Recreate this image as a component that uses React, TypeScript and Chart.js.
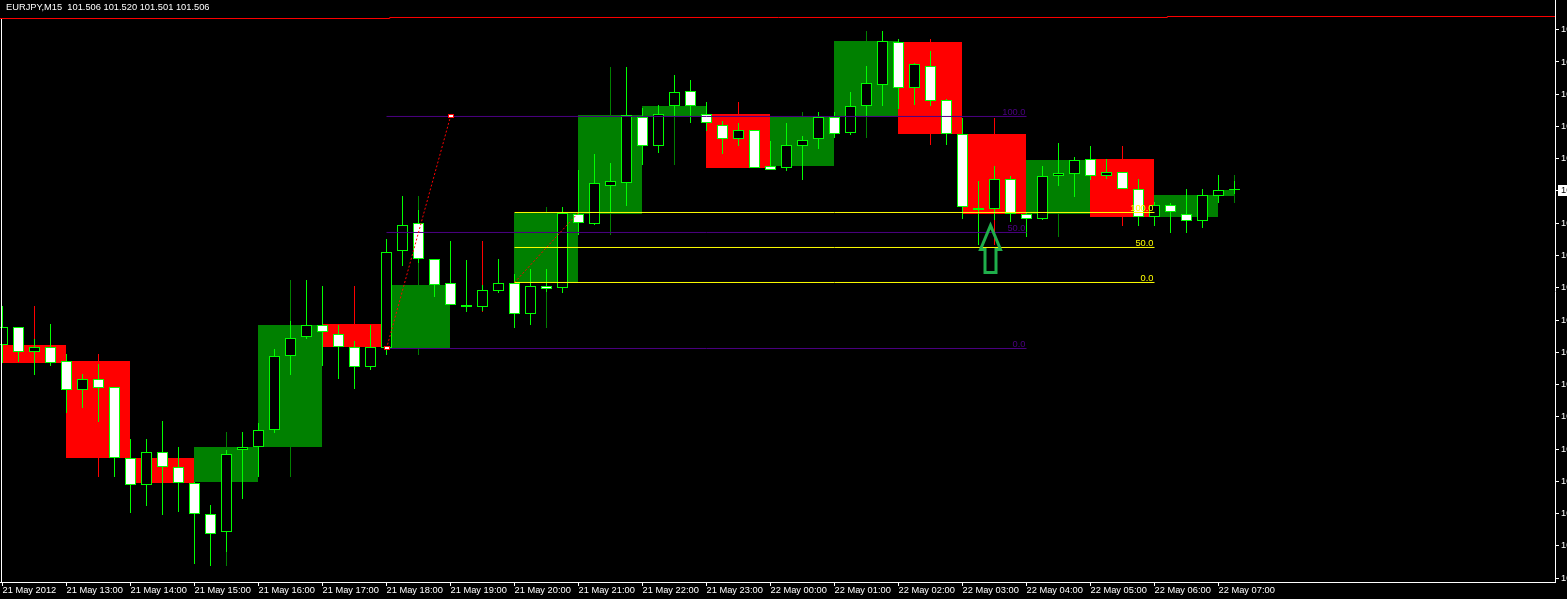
import { useEffect, useRef } from "react";
import { Chart, registerables } from "chart.js";

Chart.register(...registerables);

// ---------- data ----------
const symbolLabel = "EURJPY,M15";
const titleOHLC = [101.506, 101.52, 101.501, 101.506];

const hourLabels = [
  "21 May 2012", "21 May 13:00", "21 May 14:00", "21 May 15:00", "21 May 16:00",
  "21 May 17:00", "21 May 18:00", "21 May 19:00", "21 May 20:00", "21 May 21:00",
  "21 May 22:00", "21 May 23:00", "22 May 00:00", "22 May 01:00", "22 May 02:00",
  "22 May 03:00", "22 May 04:00", "22 May 05:00", "22 May 06:00", "22 May 07:00",
];

const m15Open = [
  101.266, 101.294, 101.255, 101.263, 101.241, 101.196, 101.213, 101.201, 101.091, 101.05,
  101.101, 101.078, 101.053, 101.004, 100.976, 101.103, 101.108, 101.134, 101.249, 101.278,
  101.298, 101.283, 101.263, 101.232, 101.261, 101.412, 101.455, 101.399, 101.363, 101.329,
  101.325, 101.35, 101.362, 101.315, 101.357, 101.354, 101.47, 101.454, 101.512, 101.517,
  101.62, 101.575, 101.637, 101.66, 101.625, 101.608, 101.585, 101.6, 101.543, 101.54,
  101.575, 101.585, 101.619, 101.595, 101.636, 101.669, 101.736, 101.664, 101.699, 101.646,
  101.594, 101.475, 101.477, 101.523, 101.469, 101.461, 101.528, 101.532, 101.554, 101.529,
  101.535, 101.508, 101.464, 101.484, 101.47, 101.458, 101.498, 101.506,
];
const m15High = [
  101.327, 101.294, 101.275, 101.299, 101.252, 101.221, 101.237, 101.201, 101.121, 101.121,
  101.148, 101.108, 101.054, 101.018, 101.104, 101.131, 101.145, 101.26, 101.303, 101.367,
  101.358, 101.297, 101.272, 101.297, 101.431, 101.497, 101.476, 101.399, 101.427, 101.398,
  101.36, 101.4, 101.376, 101.384, 101.384, 101.48, 101.538, 101.562, 101.548, 101.697,
  101.633, 101.638, 101.685, 101.677, 101.643, 101.614, 101.611, 101.6, 101.583, 101.611,
  101.59, 101.627, 101.627, 101.658, 101.698, 101.753, 101.741, 101.704, 101.722, 101.648,
  101.618, 101.521, 101.544, 101.528, 101.471, 101.544, 101.579, 101.558, 101.575, 101.555,
  101.535, 101.523, 101.488, 101.487, 101.508, 101.508, 101.53, 101.52,
];
const m15Low = [
  101.238, 101.24, 101.22, 101.234, 101.161, 101.168, 101.147, 101.062, 101.006, 101.017,
  101.003, 101.008, 100.927, 100.924, 100.946, 101.028, 101.061, 101.13, 101.22, 101.275,
  101.233, 101.213, 101.198, 101.228, 101.251, 101.388, 101.393, 101.341, 101.328, 101.318,
  101.319, 101.347, 101.293, 101.297, 101.348, 101.347, 101.437, 101.452, 101.472, 101.481,
  101.545, 101.564, 101.621, 101.61, 101.598, 101.563, 101.574, 101.541, 101.537, 101.536,
  101.522, 101.57, 101.587, 101.591, 101.62, 101.637, 101.632, 101.638, 101.637, 101.576,
  101.461, 101.421, 101.46, 101.457, 101.434, 101.46, 101.512, 101.495, 101.522, 101.523,
  101.508, 101.45, 101.451, 101.44, 101.44, 101.448, 101.486, 101.501,
];
const m15Close = [
  101.294, 101.255, 101.263, 101.239, 101.196, 101.213, 101.199, 101.091, 101.05, 101.101,
  101.078, 101.052, 101.005, 100.974, 101.098, 101.108, 101.134, 101.249, 101.277, 101.297,
  101.286, 101.263, 101.232, 101.263, 101.41, 101.453, 101.399, 101.36, 101.329, 101.325,
  101.351, 101.363, 101.315, 101.357, 101.353, 101.471, 101.455, 101.518, 101.52, 101.622,
  101.574, 101.625, 101.658, 101.637, 101.61, 101.585, 101.6, 101.541, 101.537, 101.576,
  101.584, 101.62, 101.594, 101.636, 101.672, 101.737, 101.664, 101.702, 101.645, 101.594,
  101.48, 101.478, 101.524, 101.47, 101.461, 101.529, 101.533, 101.553, 101.528, 101.535,
  101.508, 101.464, 101.484, 101.472, 101.458, 101.499, 101.507, 101.506,
];

const h1Open = [
  101.266, 101.241, 101.091, 101.054, 101.108, 101.299, 101.261, 101.363, 101.363, 101.47,
  101.62, 101.625, 101.543, 101.619, 101.736, 101.594, 101.469, 101.554, 101.464, 101.498,
];
const h1High = [
  101.327, 101.252, 101.148, 101.131, 101.367, 101.358, 101.497, 101.427, 101.48, 101.697,
  101.685, 101.643, 101.627, 101.753, 101.741, 101.618, 101.579, 101.575, 101.508, 101.53,
];
const h1Low = [
  101.22, 101.062, 101.003, 100.924, 101.061, 101.198, 101.251, 101.318, 101.293, 101.437,
  101.545, 101.541, 101.522, 101.587, 101.576, 101.421, 101.434, 101.45, 101.44, 101.486,
];
const h1Close = [
  101.239, 101.091, 101.052, 101.108, 101.297, 101.263, 101.36, 101.363, 101.471, 101.622,
  101.637, 101.541, 101.62, 101.737, 101.594, 101.47, 101.553, 101.464, 101.499, 101.506,
];

const yTickValues = [
  100.905, 100.955, 101.005, 101.055, 101.105, 101.155, 101.205, 101.255, 101.305,
  101.355, 101.405, 101.455, 101.505, 101.555, 101.605, 101.655, 101.705, 101.755,
];

const fibLevels = [0, 50, 100];
const fibPurpleTimes = [24, 28];
const fibPurplePrices = [101.2609, 101.6205];
const fibPurpleEnd = 64;
const fibYellowTimes = [32, 36];
const fibYellowPrices = [101.3632, 101.4717];
const fibYellowEnd = 72;

const redLineTimes = [-1, 24.2, 72.8, 98];
const redLinePrices = [101.7723, 101.7739, 101.7754, 101.7754];

const arrowTime = [61.75];
const arrowPrice = [101.454];

// ---------- styling / axis constants ----------
const FONT = "'Liberation Sans', Arial, sans-serif";
const FS = 9.3;
const LIME = "#00ff00";
const BOX_GREEN = "#008000";
const RED = "#ff0000";
const PURPLE = "#4b0082";
const YELLOW = "#ffff00";
const ARROW = "#1fae4b";
const X_MIN = -0.15625;
const X_MAX = 97.03125;
const Y_MIN = 100.899;
const Y_MAX = 101.801;

const nBars = m15Open.length;
const hourIdx = h1Open.map((_, h) => h);
const fullHours = hourIdx.filter((h) => 4 * h + 3 < nBars);
const partialHours = hourIdx.filter((h) => 4 * h + 3 >= nBars && 4 * h < nBars);
const h1Color = (h: number) => (h1Close[h] > h1Open[h] ? BOX_GREEN : RED);
const fibPrice = (prices: number[], lvl: number) => prices[0] + ((prices[1] - prices[0]) * lvl) / 100;

function fibLineSets(times: number[], prices: number[], end: number, color: string) {
  return fibLevels.map((lvl) => ({
    type: "line" as const,
    data: [
      { x: times[0], y: fibPrice(prices, lvl) },
      { x: end, y: fibPrice(prices, lvl) },
    ],
    borderColor: color,
    borderWidth: 1,
    pointRadius: 0,
    order: 3,
  }));
}

// snap bar rectangles (computed by the scales) to whole device pixels
const pixelSnapPlugin = {
  id: "pixelSnap",
  beforeDatasetsDraw(chart: any) {
    chart.getSortedVisibleDatasetMetas().forEach((meta: any) => {
      if (meta.type !== "bar") return;
      meta.data.forEach((el: any) => {
        const w = el.width;
        el.x = Math.floor(el.x - w / 2 + 1e-6) + w / 2;
        const top = Math.min(el.y, el.base);
        const bottom = Math.max(el.y, el.base);
        let t = Math.round(top);
        let b = Math.round(bottom);
        if (b - t < 1 && bottom - top > 0.5) b = t + 1;
        if (el.y <= el.base) {
          el.y = t;
          el.base = b;
        } else {
          el.y = b;
          el.base = t;
        }
      });
    });
  },
};

const overlayPlugin = {
  id: "overlay",
  beforeDraw(chart: any) {
    const { ctx, width, height } = chart;
    ctx.save();
    ctx.fillStyle = "#000";
    ctx.fillRect(0, 0, width, height);
    ctx.restore();
  },
  afterDraw(chart: any) {
    const { ctx, chartArea } = chart;
    const xs = chart.scales.x;
    const ys = chart.scales.y;
    ctx.save();
    // left border
    const topY = Math.round(ys.getPixelForValue(redLinePrices[0]));
    ctx.fillStyle = "#fff";
    ctx.fillRect(Math.round(chartArea.left) + 1, topY, 1, chartArea.bottom - topY);

    // fib labels
    ctx.font = `${FS}px ${FONT}`;
    ctx.textAlign = "right";
    ctx.textBaseline = "alphabetic";
    const drawFib = (prices: number[], end: number, color: string) => {
      const x = xs.getPixelForValue(end) - 1;
      ctx.fillStyle = color;
      fibLevels.forEach((lvl) => {
        const y = ys.getPixelForValue(fibPrice(prices, lvl));
        ctx.fillText(lvl.toFixed(1), x, Math.round(y) - 1.5);
      });
    };
    drawFib(fibPurplePrices, fibPurpleEnd, PURPLE);
    drawFib(fibYellowPrices, fibYellowEnd, YELLOW);

    // anchor markers of the purple fib
    fibPurpleTimes.forEach((t, k) => {
      const x = xs.getPixelForValue(t);
      const y = ys.getPixelForValue(fibPurplePrices[k]);
      ctx.fillStyle = RED;
      ctx.fillRect(Math.round(x) - 3, Math.round(y) - 2, 6, 4);
      ctx.fillStyle = "#fff";
      ctx.fillRect(Math.round(x) - 2, Math.round(y) - 1, 4, 2);
    });

    // arrow
    const ax = xs.getPixelForValue(arrowTime[0]);
    const ay = ys.getPixelForValue(arrowPrice[0]);
    ctx.beginPath();
    ctx.moveTo(ax, ay + 1.5);
    ctx.lineTo(ax + 10, ay + 25.5);
    ctx.lineTo(ax + 5.5, ay + 25.5);
    ctx.lineTo(ax + 5.5, ay + 48.5);
    ctx.lineTo(ax - 5.5, ay + 48.5);
    ctx.lineTo(ax - 5.5, ay + 25.5);
    ctx.lineTo(ax - 10, ay + 25.5);
    ctx.closePath();
    ctx.lineWidth = 3;
    ctx.lineJoin = "miter";
    ctx.strokeStyle = ARROW;
    ctx.stroke();

    // title
    ctx.textAlign = "left";
    ctx.textBaseline = "middle";
    ctx.fillStyle = "#fff";
    ctx.fillText(`${symbolLabel}  ${titleOHLC.map((v) => v.toFixed(3)).join(" ")}`, 6, 7.5);

    // current price label
    const last = titleOHLC[3];
    const py = ys.getPixelForValue(last);
    ctx.fillStyle = "#fff";
    ctx.fillRect(chartArea.right + 3, Math.round(py) - 5, 40, 11);
    ctx.fillStyle = "#000";
    ctx.fillText(last.toFixed(3), chartArea.right + 6, py + 0.5);
    ctx.restore();
  },
};

export default function App() {
  const ref = useRef<HTMLCanvasElement>(null);

  useEffect(() => {
    document.body.style.margin = "0";
    document.body.style.background = "#000";
    document.documentElement.style.overflow = "hidden";
    const canvas = ref.current;
    if (!canvas) return;

    Chart.defaults.font.family = FONT;
    Chart.defaults.font.size = FS;

    const partialH = partialHours[0];
    const partialCount = partialH !== undefined ? nBars - 4 * partialH : 0;

    const datasets: any[] = [
      {
        type: "line",
        data: redLineTimes.map((t, k) => ({ x: t, y: redLinePrices[k] })),
        stepped: true,
        borderColor: RED,
        borderWidth: 1,
        pointRadius: 0,
        order: 1,
      },
      {
        type: "line",
        data: fibPurpleTimes.map((t, k) => ({ x: t, y: fibPurplePrices[k] })),
        borderColor: RED,
        borderWidth: 1,
        borderDash: [2, 2],
        pointRadius: 0,
        order: 2,
      },
      {
        type: "line",
        data: fibYellowTimes.map((t, k) => ({ x: t, y: fibYellowPrices[k] })),
        borderColor: RED,
        borderWidth: 1,
        borderDash: [2, 2],
        pointRadius: 0,
        order: 2,
      },
      ...fibLineSets(fibPurpleTimes, fibPurplePrices, fibPurpleEnd, PURPLE),
      ...fibLineSets(fibYellowTimes, fibYellowPrices, fibYellowEnd, YELLOW),
      {
        type: "bar",
        data: m15Open.map((o, i) => ({ x: i, y: [o, m15Close[i]] })),
        backgroundColor: m15Open.map((o, i) => (m15Close[i] < o ? "#ffffff" : "#000000")),
        borderColor: LIME,
        borderWidth: 1,
        borderSkipped: false,
        barThickness: 11,
        minBarLength: 1,
        inflateAmount: 0,
        order: 4,
      },
      {
        type: "bar",
        data: m15Low.map((l, i) => ({ x: i, y: [l, m15High[i]] })),
        backgroundColor: LIME,
        borderWidth: 0,
        barThickness: 1,
        inflateAmount: 0,
        order: 5,
      },
      {
        type: "bar",
        data: hourIdx
          .filter((h) => 4 * h < nBars)
          .map((h) => ({ x: Math.min(4 * h + 2, nBars - 1), y: [h1Low[h], h1High[h]] })),
        backgroundColor: hourIdx.filter((h) => 4 * h < nBars).map(h1Color),
        borderWidth: 0,
        barThickness: 1,
        inflateAmount: 0,
        order: 6,
      },
      {
        type: "bar",
        data: fullHours.map((h) => ({ x: 4 * h + 2, y: [h1Open[h], h1Close[h]] })),
        backgroundColor: fullHours.map(h1Color),
        borderWidth: 0,
        barThickness: 64,
        inflateAmount: 0,
        order: 7,
      },
    ];
    if (partialH !== undefined && partialCount > 1) {
      datasets.push({
        type: "bar",
        data: [{ x: 4 * partialH + (partialCount - 1) / 2, y: [h1Open[partialH], h1Close[partialH]] }],
        backgroundColor: [h1Color(partialH)],
        borderWidth: 0,
        barThickness: 16 * (partialCount - 1),
        inflateAmount: 0,
        order: 7,
      });
    }

    const chart = new Chart(canvas, {
      type: "bar",
      data: { datasets },
      options: {
        responsive: false,
        animation: false,
        events: [],
        layout: { padding: 0, autoPadding: false },
        plugins: { legend: { display: false }, tooltip: { enabled: false }, title: { display: false } },
        scales: {
          x: {
            type: "linear",
            position: "bottom",
            min: X_MIN,
            max: X_MAX,
            offset: false,
            stacked: true,
            bounds: "data",
            afterBuildTicks: (s: any) => {
              s.ticks = hourLabels.map((_, h) => ({ value: 4 * h }));
            },
            afterFit: (s: any) => {
              s.height = 17;
              s.paddingLeft = 0;
              s.paddingRight = 0;
            },
            ticks: {
              autoSkip: false,
              maxRotation: 0,
              minRotation: 0,
              align: "start",
              padding: -1,
              color: "#ffffff",
              font: { family: FONT, size: FS },
              callback: (v: any) => hourLabels[Math.round(Number(v) / 4)] ?? "",
            },
            grid: {
              display: true,
              offset: false,
              drawOnChartArea: false,
              drawTicks: true,
              tickLength: 4,
              color: "#ffffff",
              lineWidth: 1,
            },
            border: { display: true, color: "#ffffff", width: 1 },
          } as any,
          y: {
            type: "linear",
            position: "right",
            min: Y_MIN,
            max: Y_MAX,
            bounds: "data",
            beginAtZero: false,
            stacked: false,
            afterBuildTicks: (s: any) => {
              s.ticks = yTickValues.map((v) => ({ value: v }));
            },
            afterFit: (s: any) => {
              s.width = 12;
              s.paddingTop = 0;
              s.paddingBottom = 0;
            },
            ticks: {
              padding: 2,
              color: "#ffffff",
              font: { family: FONT, size: FS },
              callback: (v: any) => Number(v).toFixed(3),
            },
            grid: {
              display: true,
              drawOnChartArea: false,
              drawTicks: true,
              tickLength: 4,
              color: "#ffffff",
              lineWidth: 1,
            },
            border: { display: true, color: "#ffffff", width: 1 },
          } as any,
        },
      },
      plugins: [pixelSnapPlugin, overlayPlugin],
    } as any);

    return () => chart.destroy();
  }, []);

  return <canvas ref={ref} width={1567} height={599} style={{ display: "block" }} />;
}
